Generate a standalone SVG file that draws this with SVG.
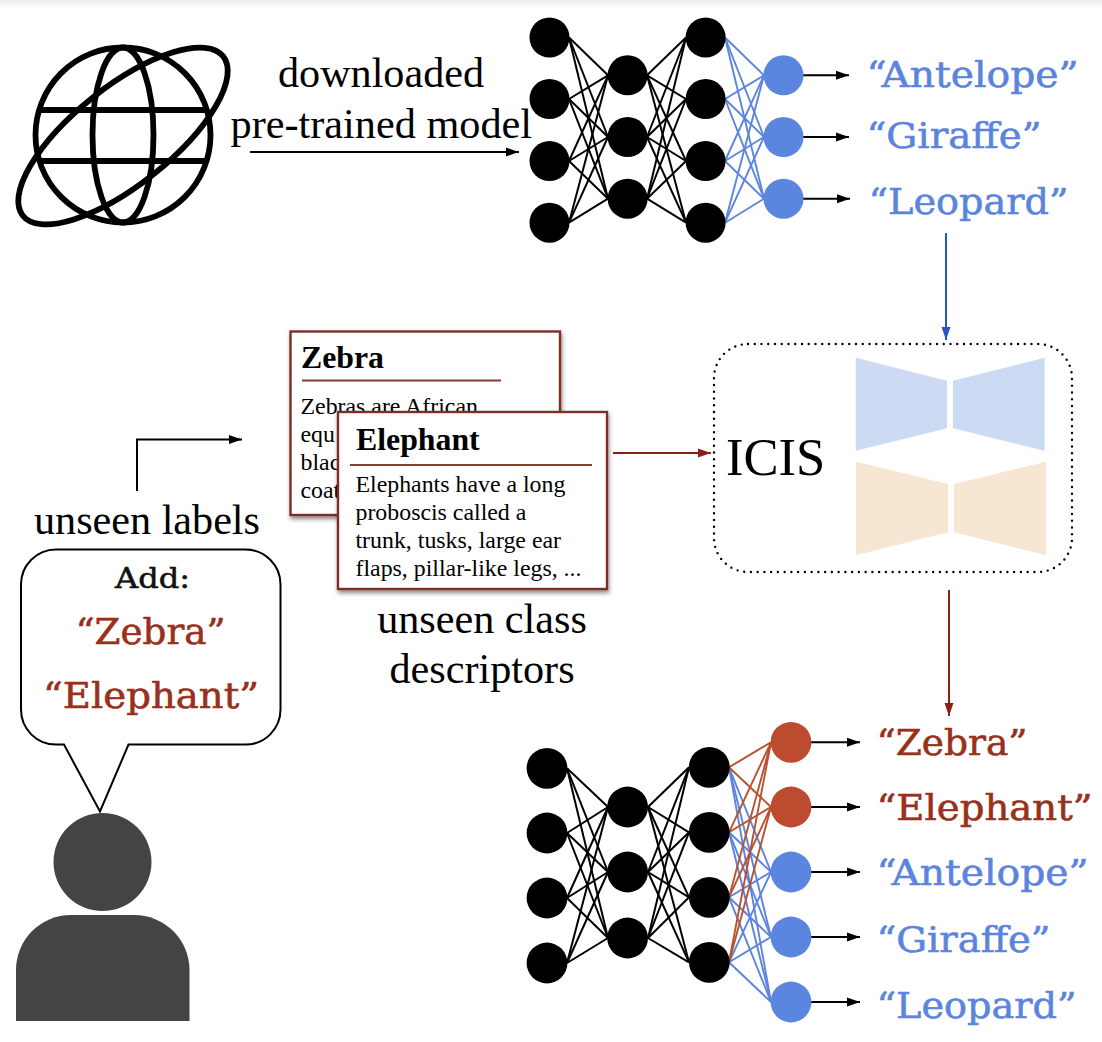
<svg xmlns="http://www.w3.org/2000/svg" width="1102" height="1042" viewBox="0 0 1102 1042">
<style>
.t{font-family:"Liberation Serif","Times New Roman",serif;fill:#000}
.big{font-size:42.2px;text-anchor:start}
.lab{font-family:"DejaVu Serif",serif;font-size:34.5px;stroke-width:0.55}
.blue{fill:#5b84dd;stroke:#5b84dd}.red{fill:#98301c;stroke:#98301c}
.n{fill:#000}.nb{fill:#5a86e0}.nr{fill:#bc4b30}
.k{stroke:#000;stroke-width:2;fill:none}
.bl{stroke:#5b84dd;stroke-width:1.9}
.rl{stroke:#b9502f;stroke-width:1.9}
.ar{stroke:#000;stroke-width:2;fill:none;marker-end:url(#hk)}
.card{fill:#fff;stroke:#7e2f23;stroke-width:2.4;filter:url(#sh)}
.rule{stroke:#8a3a2c;stroke-width:2}
.h{font-size:31.8px;font-weight:bold}
.b{font-size:23.85px}
.g{fill:none;stroke:#000;stroke-width:5.8}
.p{fill:#444}
</style>
<defs>
<linearGradient id="top" x1="0" y1="0" x2="0" y2="1"><stop offset="0" stop-color="#ececec"/><stop offset="1" stop-color="#fff"/></linearGradient>
<marker id="hk" markerUnits="userSpaceOnUse" markerWidth="14" markerHeight="10" refX="13" refY="5" orient="auto"><path d="M0 0.5L13 5L0 9.5z" fill="#000"/></marker>
<marker id="hb" markerUnits="userSpaceOnUse" markerWidth="14" markerHeight="10" refX="13" refY="5" orient="auto"><path d="M0 0.5L13 5L0 9.5z" fill="#2a55c0"/></marker>
<marker id="hr" markerUnits="userSpaceOnUse" markerWidth="14" markerHeight="10" refX="13" refY="5" orient="auto"><path d="M0 0.5L13 5L0 9.5z" fill="#8a2015"/></marker>
<filter id="sh" x="-10%" y="-10%" width="125%" height="125%"><feDropShadow dx="1" dy="3" stdDeviation="2.2" flood-color="#000" flood-opacity="0.45"/></filter>
</defs>
<rect width="1102" height="1042" fill="#fff"/>
<rect width="1102" height="9" fill="url(#top)"/>

<g id="connectors">
<g id="top-net-black" class="k">
<line x1="569" y1="37.5" x2="608" y2="75.3"/><line x1="569" y1="37.5" x2="608" y2="137"/><line x1="569" y1="37.5" x2="608" y2="198.7"/>
<line x1="569" y1="99" x2="608" y2="75.3"/><line x1="569" y1="99" x2="608" y2="137"/><line x1="569" y1="99" x2="608" y2="198.7"/>
<line x1="569" y1="161" x2="608" y2="75.3"/><line x1="569" y1="161" x2="608" y2="137"/><line x1="569" y1="161" x2="608" y2="198.7"/>
<line x1="569" y1="222.7" x2="608" y2="75.3"/><line x1="569" y1="222.7" x2="608" y2="137"/><line x1="569" y1="222.7" x2="608" y2="198.7"/>
<line x1="647" y1="75.3" x2="686" y2="37.5"/><line x1="647" y1="75.3" x2="686" y2="99"/><line x1="647" y1="75.3" x2="686" y2="161"/><line x1="647" y1="75.3" x2="686" y2="222.7"/>
<line x1="647" y1="137" x2="686" y2="37.5"/><line x1="647" y1="137" x2="686" y2="99"/><line x1="647" y1="137" x2="686" y2="161"/><line x1="647" y1="137" x2="686" y2="222.7"/>
<line x1="647" y1="198.7" x2="686" y2="37.5"/><line x1="647" y1="198.7" x2="686" y2="99"/><line x1="647" y1="198.7" x2="686" y2="161"/><line x1="647" y1="198.7" x2="686" y2="222.7"/>
</g>
<g id="top-net-blue" class="bl">
<line x1="725" y1="37.5" x2="764" y2="75.3"/><line x1="725" y1="37.5" x2="764" y2="137"/><line x1="725" y1="37.5" x2="764" y2="198.7"/>
<line x1="725" y1="99" x2="764" y2="75.3"/><line x1="725" y1="99" x2="764" y2="137"/><line x1="725" y1="99" x2="764" y2="198.7"/>
<line x1="725" y1="161" x2="764" y2="75.3"/><line x1="725" y1="161" x2="764" y2="137"/><line x1="725" y1="161" x2="764" y2="198.7"/>
<line x1="725" y1="222.7" x2="764" y2="75.3"/><line x1="725" y1="222.7" x2="764" y2="137"/><line x1="725" y1="222.7" x2="764" y2="198.7"/>
</g>
<g id="bottom-net-black" class="k">
<line x1="567" y1="768.3" x2="608" y2="807"/><line x1="567" y1="768.3" x2="608" y2="872"/><line x1="567" y1="768.3" x2="608" y2="938"/>
<line x1="567" y1="833" x2="608" y2="807"/><line x1="567" y1="833" x2="608" y2="872"/><line x1="567" y1="833" x2="608" y2="938"/>
<line x1="567" y1="898" x2="608" y2="807"/><line x1="567" y1="898" x2="608" y2="872"/><line x1="567" y1="898" x2="608" y2="938"/>
<line x1="567" y1="963" x2="608" y2="807"/><line x1="567" y1="963" x2="608" y2="872"/><line x1="567" y1="963" x2="608" y2="938"/>
<line x1="648" y1="807" x2="689" y2="767.3"/><line x1="648" y1="807" x2="689" y2="832.3"/><line x1="648" y1="807" x2="689" y2="897.3"/><line x1="648" y1="807" x2="689" y2="962.3"/>
<line x1="648" y1="872" x2="689" y2="767.3"/><line x1="648" y1="872" x2="689" y2="832.3"/><line x1="648" y1="872" x2="689" y2="897.3"/><line x1="648" y1="872" x2="689" y2="962.3"/>
<line x1="648" y1="938" x2="689" y2="767.3"/><line x1="648" y1="938" x2="689" y2="832.3"/><line x1="648" y1="938" x2="689" y2="897.3"/><line x1="648" y1="938" x2="689" y2="962.3"/>
</g>
<g id="bottom-net-blue" class="bl">
<line x1="729" y1="767.3" x2="771" y2="872"/><line x1="729" y1="767.3" x2="771" y2="937"/><line x1="729" y1="767.3" x2="771" y2="1002"/>
<line x1="729" y1="832.3" x2="771" y2="872"/><line x1="729" y1="832.3" x2="771" y2="937"/><line x1="729" y1="832.3" x2="771" y2="1002"/>
<line x1="729" y1="897.3" x2="771" y2="872"/><line x1="729" y1="897.3" x2="771" y2="937"/><line x1="729" y1="897.3" x2="771" y2="1002"/>
<line x1="729" y1="962.3" x2="771" y2="872"/><line x1="729" y1="962.3" x2="771" y2="937"/><line x1="729" y1="962.3" x2="771" y2="1002"/>
</g>
<g id="bottom-net-red" class="rl">
<line x1="729" y1="767.3" x2="771" y2="742.3"/><line x1="729" y1="767.3" x2="771" y2="807"/>
<line x1="729" y1="832.3" x2="771" y2="742.3"/><line x1="729" y1="832.3" x2="771" y2="807"/>
<line x1="729" y1="897.3" x2="771" y2="742.3"/><line x1="729" y1="897.3" x2="771" y2="807"/>
<line x1="729" y1="962.3" x2="771" y2="742.3"/><line x1="729" y1="962.3" x2="771" y2="807"/>
</g>
<g id="arrows">
<line class="ar" x1="250" y1="152" x2="519" y2="152"/>
<line class="ar" x1="803" y1="75.3" x2="849" y2="75.3"/>
<line class="ar" x1="803" y1="137" x2="849" y2="137"/>
<line class="ar" x1="803" y1="198.7" x2="850" y2="198.7"/>
<line x1="946" y1="233" x2="946" y2="340" stroke="#2a55c0" stroke-width="2" marker-end="url(#hb)"/>
<line x1="613" y1="453" x2="711" y2="453" stroke="#8a2015" stroke-width="2" marker-end="url(#hr)"/>
<line x1="949" y1="590" x2="949" y2="716" stroke="#8a2015" stroke-width="2" marker-end="url(#hr)"/>
<path class="ar" d="M137 491V439.6H242"/>
<line class="ar" x1="811" y1="742.3" x2="860" y2="742.3"/>
<line class="ar" x1="811" y1="807" x2="860" y2="807"/>
<line class="ar" x1="811" y1="872" x2="860" y2="872"/>
<line class="ar" x1="811" y1="937" x2="860" y2="937"/>
<line class="ar" x1="811" y1="1002" x2="860" y2="1002"/>
</g>
</g>

<g id="globe">
<circle class="g" cx="123" cy="135" r="87.5"/>
<ellipse class="g" cx="123" cy="135" rx="30.5" ry="87.5"/>
<line class="g" x1="40" y1="110" x2="206" y2="110"/>
<line class="g" x1="40" y1="161" x2="206" y2="161"/>
<ellipse class="g" cx="123" cy="136" rx="128" ry="49" transform="rotate(-38.5 123 136)"/>
</g>

<g id="download-label">
<text class="t big" x="278" y="87" textLength="206" lengthAdjust="spacingAndGlyphs">downloaded</text>
<text class="t big" x="230.500" y="138" textLength="301.500" lengthAdjust="spacingAndGlyphs">pre-trained model</text>
</g>

<g id="top-network">
<circle class="n" cx="549.5" cy="37.5" r="20"/><circle class="n" cx="549.5" cy="99" r="20"/><circle class="n" cx="549.5" cy="161" r="20"/><circle class="n" cx="549.5" cy="222.7" r="20"/>
<circle class="n" cx="627.6" cy="75.3" r="20"/><circle class="n" cx="627.6" cy="137" r="20"/><circle class="n" cx="627.6" cy="198.7" r="20"/>
<circle class="n" cx="705.6" cy="37.5" r="20"/><circle class="n" cx="705.6" cy="99" r="20"/><circle class="n" cx="705.6" cy="161" r="20"/><circle class="n" cx="705.6" cy="222.7" r="20"/>
<circle class="nb" cx="783.5" cy="75.3" r="20"/><circle class="nb" cx="783.5" cy="137" r="20"/><circle class="nb" cx="783.5" cy="198.7" r="20"/>
</g>

<g id="top-labels">
<text class="lab blue" x="866.5" y="87" textLength="212" lengthAdjust="spacingAndGlyphs">“Antelope”</text>
<text class="lab blue" x="866.5" y="148" textLength="175" lengthAdjust="spacingAndGlyphs">“Giraffe”</text>
<text class="lab blue" x="868.5" y="214" textLength="200" lengthAdjust="spacingAndGlyphs">“Leopard”</text>
</g>

<g id="card-zebra">
<rect class="card" x="290.5" y="331.5" width="269.5" height="183.5"/>
<text class="t h" x="301" y="368">Zebra</text>
<line class="rule" x1="302" y1="380.5" x2="501" y2="380.5"/>
<text class="t b" x="300.5" y="414">Zebras are African</text>
<text class="t b" x="300.5" y="442">equ</text>
<text class="t b" x="300.5" y="470">blac</text>
<text class="t b" x="300.5" y="498">coat</text>
</g>
<g id="card-elephant">
<rect class="card" x="338" y="412" width="269" height="177"/>
<text class="t h" x="356" y="449.5">Elephant</text>
<line class="rule" x1="350" y1="465" x2="592" y2="465"/>
<text class="t b" x="355.5" y="491.5">Elephants have a long</text>
<text class="t b" x="355.5" y="519.5">proboscis called a</text>
<text class="t b" x="355.5" y="547.5">trunk, tusks, large ear</text>
<text class="t b" x="355.5" y="575.5">flaps, pillar-like legs, ...</text>
</g>
<g id="descriptor-label">
<text class="t big" x="482" y="632.500" style="text-anchor:middle">unseen class</text>
<text class="t big" x="482" y="682.500" style="text-anchor:middle">descriptors</text>
</g>

<g id="icis">
<rect x="714" y="344" width="358" height="228" rx="34" fill="none" stroke="#000" stroke-width="2.4" stroke-linecap="round" stroke-dasharray="0 6.75"/>
<text class="t" x="726" y="475" font-size="52.6">ICIS</text>
<path fill="#ccdaf3" d="M855.7 357.7L947 380.7V428.3L855.7 450.7zM953 380.7L1044.7 357.7V450.7L953 428.3z"/>
<path fill="#f7e6d2" d="M856 461.7L948 484V532.3L856 555.3zM954 484L1046 461.7V555.3L954 532.3z"/>
</g>

<g id="unseen-label"><text class="t big" x="34" y="534" textLength="226" lengthAdjust="spacingAndGlyphs">unseen labels</text></g>

<g id="speech-bubble">
<path fill="#fff" stroke="#000" stroke-width="2" d="M56 549.5H245.500A35 35 0 0 1 280.500 584.500V709.600A35 35 0 0 1 245.500 744.600H128.500L100 811.500L64 744.600H56A35 35 0 0 1 21 709.600V584.500A35 35 0 0 1 56 549.500z"/>
<text class="lab" x="115" y="588" fill="#111" stroke="#111" style="font-size:28.500px" textLength="75" lengthAdjust="spacingAndGlyphs">Add:</text>
<text class="lab red" x="75.500" y="643.500" textLength="150" lengthAdjust="spacingAndGlyphs">“Zebra”</text>
<text class="lab red" x="43" y="707.500" textLength="216" lengthAdjust="spacingAndGlyphs">“Elephant”</text>
</g>

<g id="person">
<ellipse class="p" cx="102.500" cy="862" rx="49" ry="49"/>
<path class="p" d="M16 1021V970A55 55 0 0 1 71 915H134A55.500 55 0 0 1 189.500 970V1021z"/>
</g>

<g id="bottom-network">
<circle class="n" cx="547" cy="768.300" r="20.400"/><circle class="n" cx="547" cy="833" r="20.400"/><circle class="n" cx="547" cy="898" r="20.400"/><circle class="n" cx="547" cy="963" r="20.400"/>
<circle class="n" cx="627.600" cy="807" r="20.400"/><circle class="n" cx="627.600" cy="872" r="20.400"/><circle class="n" cx="627.600" cy="938" r="20.400"/>
<circle class="n" cx="709.300" cy="767.300" r="20.400"/><circle class="n" cx="709.300" cy="832.300" r="20.400"/><circle class="n" cx="709.300" cy="897.300" r="20.400"/><circle class="n" cx="709.300" cy="962.300" r="20.400"/>
<circle class="nr" cx="791" cy="742.300" r="20.400"/><circle class="nr" cx="791" cy="807" r="20.400"/>
<circle class="nb" cx="791" cy="872" r="20.400"/><circle class="nb" cx="791" cy="937" r="20.400"/><circle class="nb" cx="791" cy="1002" r="20.400"/>
</g>

<g id="bottom-labels">
<text class="lab red" x="876.500" y="755" textLength="151" lengthAdjust="spacingAndGlyphs">“Zebra”</text>
<text class="lab red" x="876.500" y="820" textLength="216" lengthAdjust="spacingAndGlyphs">“Elephant”</text>
<text class="lab blue" x="876.500" y="885" textLength="212" lengthAdjust="spacingAndGlyphs">“Antelope”</text>
<text class="lab blue" x="876.500" y="952" textLength="174" lengthAdjust="spacingAndGlyphs">“Giraffe”</text>
<text class="lab blue" x="876.500" y="1018" textLength="200" lengthAdjust="spacingAndGlyphs">“Leopard”</text>
</g>
</svg>
